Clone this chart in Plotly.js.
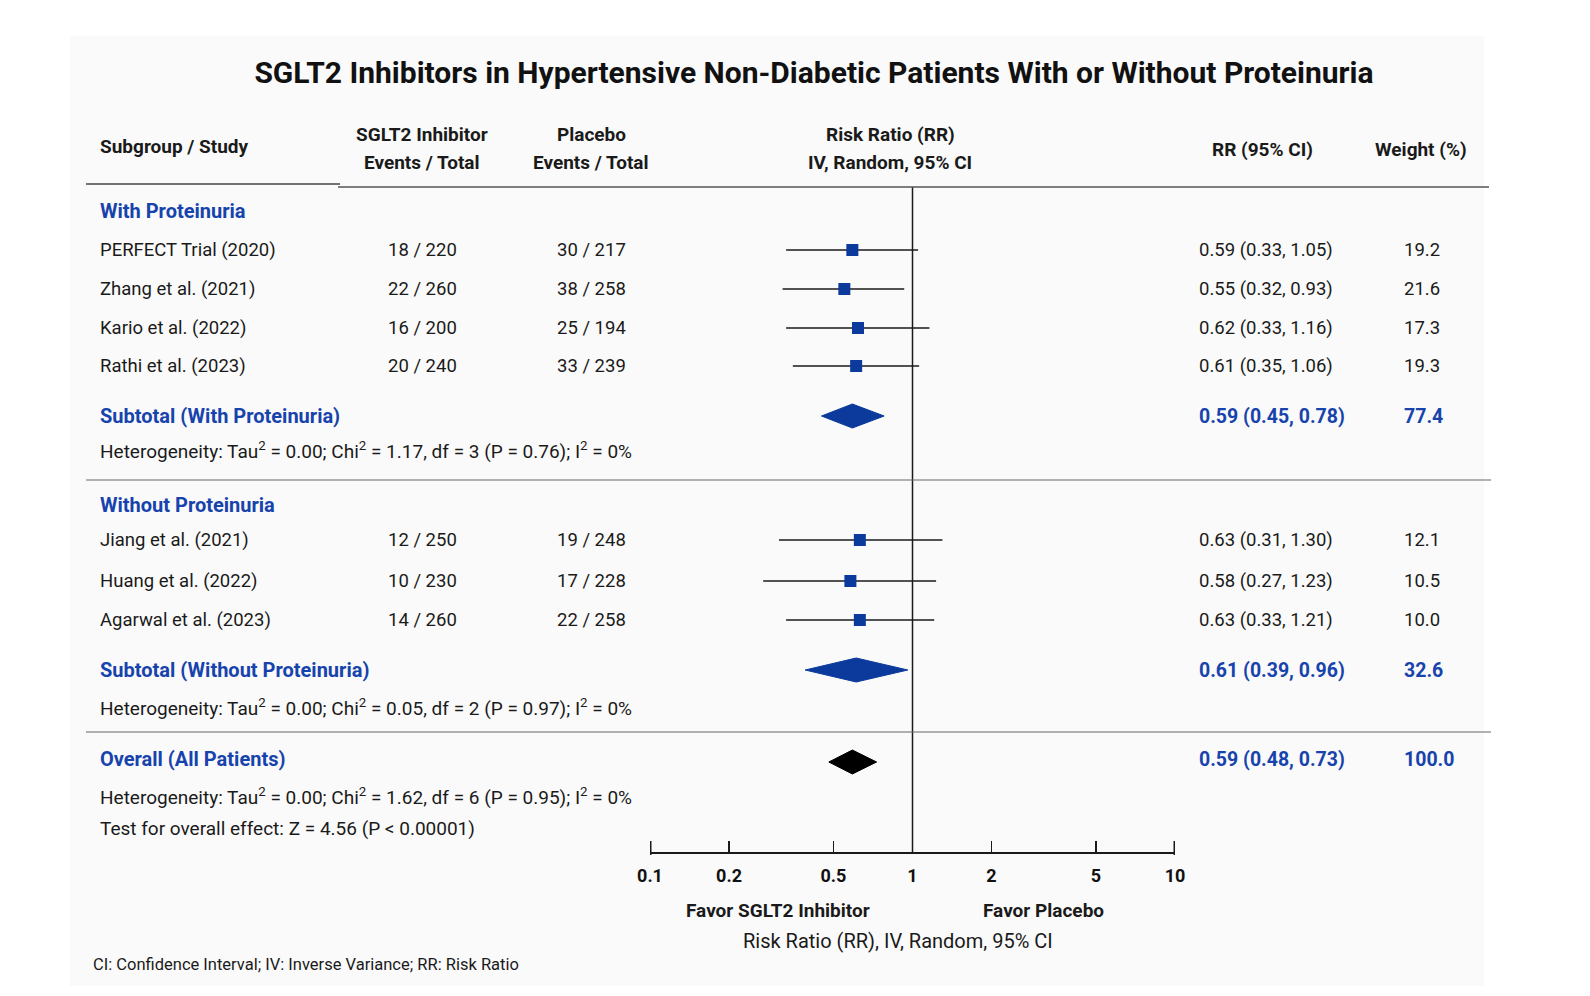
<!DOCTYPE html>
<html>
<head>
<meta charset="utf-8">
<script src="https://cdn.plot.ly/plotly-3.0.1.min.js"></script>
<style>
  html, body { margin: 0; padding: 0; background: #ffffff; }
  #chart { width: 1590px; height: 996px; }
</style>
</head>
<body>
<div id="chart"></div>
<script>
// ---------- data ----------
const studyNames = ['PERFECT Trial (2020)', 'Zhang et al. (2021)', 'Kario et al. (2022)', 'Rathi et al. (2023)',
                    'Jiang et al. (2021)', 'Huang et al. (2022)', 'Agarwal et al. (2023)'];
const sgltEvents = [18, 22, 16, 20, 12, 10, 14];
const sgltTotal = [220, 260, 200, 240, 250, 230, 260];
const placeboEvents = [30, 38, 25, 33, 19, 17, 22];
const placeboTotal = [217, 258, 194, 239, 248, 228, 258];
const studyRR = [0.59, 0.55, 0.62, 0.61, 0.63, 0.58, 0.63];
const studyLow = [0.33, 0.32, 0.33, 0.35, 0.31, 0.27, 0.33];
const studyHigh = [1.05, 0.93, 1.16, 1.06, 1.30, 1.23, 1.21];
const studyWeight = ['19.2', '21.6', '17.3', '19.3', '12.1', '10.5', '10.0'];

const groupNames = ['With Proteinuria', 'Without Proteinuria'];
const subtotalNames = ['Subtotal (With Proteinuria)', 'Subtotal (Without Proteinuria)'];
const subtotalRR = [0.59, 0.61];
const subtotalLow = [0.45, 0.39];
const subtotalHigh = [0.78, 0.96];
const subtotalWeight = ['77.4', '32.6'];
const subtotalHet = [
  'Heterogeneity: Tau<sup>2</sup> = 0.00; Chi<sup>2</sup> = 1.17, df = 3 (P = 0.76); I<sup>2</sup> = 0%',
  'Heterogeneity: Tau<sup>2</sup> = 0.00; Chi<sup>2</sup> = 0.05, df = 2 (P = 0.97); I<sup>2</sup> = 0%'
];

const overallName = 'Overall (All Patients)';
const overallRR = 0.59;
const overallLow = 0.48;
const overallHigh = 0.73;
const overallWeight = '100.0';
const overallHet = 'Heterogeneity: Tau<sup>2</sup> = 0.00; Chi<sup>2</sup> = 1.62, df = 6 (P = 0.95); I<sup>2</sup> = 0%';
const overallTest = 'Test for overall effect: Z = 4.56 (P &lt; 0.00001)';

const tickValues = [0.1, 0.2, 0.5, 1, 2, 5, 10];
const tickLabels = ['0.1', '0.2', '0.5', '1', '2', '5', '10'];

// ---------- layout geometry (pixels) ----------
const W = 1590, H = 996;
const AXIS_Y = 852;                       // row of the RR axis line
const AXIS_X0 = 650, AXIS_X1 = 1175;      // pixel span of the log axis (0.1 .. 10)
const studyRowY = [250, 289, 328, 366, 540, 581, 620];
const groupRowY = [211, 505];
const subtotalRowY = [416, 670];
const subtotalHetY = [450, 707];
const overallRowY = 759;
const overallHetY = 796;
const overallTestY = 828;

const COL_STUDY = 98, COL_SGLT = 422, COL_PLAC = 591, COL_CI = 1197, COL_W = 1402;

const FONT = 'Roboto, "Noto Sans", sans-serif';
const TXT = '#1a1a1a';
const BLUE = '#1743ad';
const MARK = '#0b3a9c';
const DIAMOND_HALF = 12;

const SZ_ROW = 18.5, SZ_HET = 19, SZ_HEAD = 19, SZ_BLUE = 20, SZ_BLUEVAL = 19.5;

const px = v => v / W;
const py = v => 1 - v / H;
const fmt = (r, l, h) => `${r.toFixed(2)} (${l.toFixed(2)}, ${h.toFixed(2)})`;

const annotations = [];
function txt(text, x, y, opts = {}) {
  annotations.push({
    text: text,
    xref: 'paper', yref: opts.yref || 'y',
    x: px(x), y: opts.yref === 'paper' ? py(y) : y,
    xanchor: opts.anchor || 'left', yanchor: 'middle',
    showarrow: false,
    font: { family: FONT, size: opts.size || SZ_ROW, color: opts.color || TXT, weight: opts.weight || 400 }
  });
}

// header
txt('Subgroup / Study', COL_STUDY, 146, { weight: 700, size: SZ_HEAD });
txt('SGLT2 Inhibitor', COL_SGLT, 134, { anchor: 'center', weight: 700, size: SZ_HEAD });
txt('Events / Total', COL_SGLT, 162, { anchor: 'center', weight: 700, size: SZ_HEAD });
txt('Placebo', COL_PLAC, 134, { anchor: 'center', weight: 700, size: SZ_HEAD });
txt('Events / Total', COL_PLAC, 162, { anchor: 'center', weight: 700, size: SZ_HEAD });
txt('Risk Ratio (RR)', 890, 134, { anchor: 'center', weight: 700, size: SZ_HEAD });
txt('IV, Random, 95% CI', 890, 162, { anchor: 'center', weight: 700, size: SZ_HEAD });
txt('RR (95% CI)', 1262, 149, { anchor: 'center', weight: 700, size: SZ_HEAD });
txt('Weight (%)', 1421, 149, { anchor: 'center', weight: 700, size: SZ_HEAD });

// subgroup headings
groupNames.forEach((g, i) => txt(g, COL_STUDY, groupRowY[i], { color: BLUE, weight: 700, size: SZ_BLUE }));

// individual studies
studyNames.forEach((s, i) => {
  const y = studyRowY[i];
  txt(s, COL_STUDY, y);
  txt(`${sgltEvents[i]} / ${sgltTotal[i]}`, COL_SGLT, y, { anchor: 'center' });
  txt(`${placeboEvents[i]} / ${placeboTotal[i]}`, COL_PLAC, y, { anchor: 'center' });
  txt(fmt(studyRR[i], studyLow[i], studyHigh[i]), COL_CI, y);
  txt(studyWeight[i], COL_W, y);
});

// subtotals
subtotalNames.forEach((s, i) => {
  const y = subtotalRowY[i];
  txt(s, COL_STUDY, y, { color: BLUE, weight: 700, size: SZ_BLUE });
  txt(fmt(subtotalRR[i], subtotalLow[i], subtotalHigh[i]), COL_CI, y, { color: BLUE, weight: 700, size: SZ_BLUEVAL });
  txt(subtotalWeight[i], COL_W, y, { color: BLUE, weight: 700, size: SZ_BLUEVAL });
  txt(subtotalHet[i], COL_STUDY, subtotalHetY[i], { size: SZ_HET });
});

// overall
txt(overallName, COL_STUDY, overallRowY, { color: BLUE, weight: 700, size: SZ_BLUE });
txt(fmt(overallRR, overallLow, overallHigh), COL_CI, overallRowY, { color: BLUE, weight: 700, size: SZ_BLUEVAL });
txt(overallWeight, COL_W, overallRowY, { color: BLUE, weight: 700, size: SZ_BLUEVAL });
txt(overallHet, COL_STUDY, overallHetY, { size: SZ_HET });
txt(overallTest, COL_STUDY, overallTestY, { size: SZ_HET });

// below the axis
txt('Favor SGLT2 Inhibitor', 778, 910, { yref: 'paper', anchor: 'center', weight: 700, size: 19 });
txt('Favor Placebo', 1043, 910, { yref: 'paper', anchor: 'center', weight: 700, size: 19 });
txt('Risk Ratio (RR), IV, Random, 95% CI', 898, 941, { yref: 'paper', anchor: 'center', size: 20 });
txt('CI: Confidence Interval; IV: Inverse Variance; RR: Risk Ratio', 91, 964, { yref: 'paper', size: 16.5 });

// ---------- traces ----------
const traces = [];

// line of no effect
traces.push({
  x: [1, 1], y: [187, AXIS_Y], mode: 'lines',
  line: { color: '#1a1a1a', width: 1.5 }, hoverinfo: 'skip', showlegend: false
});

// confidence-interval whiskers
const wx = [], wy = [];
studyRR.forEach((r, i) => { wx.push(studyLow[i], studyHigh[i], null); wy.push(studyRowY[i], studyRowY[i], null); });
traces.push({
  x: wx, y: wy, mode: 'lines',
  line: { color: '#1a1a1a', width: 1.5 }, hoverinfo: 'skip', showlegend: false
});

// point estimates
traces.push({
  x: studyRR, y: studyRowY, mode: 'markers',
  marker: { symbol: 'square', size: 12, color: MARK, line: { width: 0 } },
  hoverinfo: 'skip', showlegend: false
});

function diamond(r, l, h, y, color) {
  return {
    x: [l, r, h, r, l], y: [y, y - DIAMOND_HALF, y, y + DIAMOND_HALF, y],
    mode: 'lines', fill: 'toself', fillcolor: color,
    line: { color: color, width: 1 }, hoverinfo: 'skip', showlegend: false
  };
}
subtotalRR.forEach((r, i) => traces.push(diamond(r, subtotalLow[i], subtotalHigh[i], subtotalRowY[i], MARK)));
traces.push(diamond(overallRR, overallLow, overallHigh, overallRowY + 3, '#000000'));

// ---------- shapes ----------
const shapes = [
  // faint card behind the figure
  { type: 'rect', xref: 'paper', yref: 'paper', x0: px(70), x1: px(1484), y0: py(986), y1: py(36),
    fillcolor: '#fafafa', line: { width: 0 }, layer: 'below' },
  // header rule
  { type: 'line', xref: 'paper', yref: 'paper', x0: px(86), x1: px(340), y0: py(184), y1: py(184),
    line: { color: '#444', width: 1.5 } },
  { type: 'line', xref: 'paper', yref: 'paper', x0: px(338), x1: px(1489), y0: py(187), y1: py(187),
    line: { color: '#555', width: 1.5 } },
  // subgroup separators
  { type: 'line', xref: 'paper', yref: 'paper', x0: px(86), x1: px(1491), y0: py(480), y1: py(480),
    line: { color: '#666', width: 1.2 } },
  { type: 'line', xref: 'paper', yref: 'paper', x0: px(86), x1: px(1491), y0: py(732), y1: py(732),
    line: { color: '#666', width: 1.2 } },
  // end ticks of the RR axis (0.1 and 10)
  { type: 'line', xref: 'paper', yref: 'paper', x0: px(AXIS_X0 + 0.75), x1: px(AXIS_X0 + 0.75),
    y0: py(AXIS_Y - 11), y1: py(AXIS_Y + 3), line: { color: '#1a1a1a', width: 1.5 } },
  { type: 'line', xref: 'paper', yref: 'paper', x0: px(AXIS_X1 - 0.75), x1: px(AXIS_X1 - 0.75),
    y0: py(AXIS_Y - 11), y1: py(AXIS_Y + 3), line: { color: '#1a1a1a', width: 1.5 } }
];

const layout = {
  width: W, height: H,
  margin: { l: 0, r: 0, t: 0, b: 0 },
  paper_bgcolor: '#ffffff', plot_bgcolor: 'rgba(0,0,0,0)',
  showlegend: false,
  title: {
    text: '<b>SGLT2 Inhibitors in Hypertensive Non-Diabetic Patients With or Without Proteinuria</b>',
    x: 814 / W, xanchor: 'center', y: py(72), yanchor: 'middle', yref: 'container',
    font: { family: FONT, size: 30, color: '#111' }
  },
  xaxis: {
    type: 'log', range: [-1, 1], domain: [AXIS_X0 / W, AXIS_X1 / W],
    tickvals: tickValues, ticktext: tickLabels.map(t => '<b>' + t + '</b>'),
    ticks: 'inside', ticklen: 11, tickwidth: 1.5, tickcolor: '#1a1a1a',
    showline: true, linecolor: '#1a1a1a', linewidth: 1.5,
    showgrid: false, zeroline: false, ticklabelstandoff: 7,
    tickfont: { family: FONT, size: 18, color: '#111' },
    fixedrange: true
  },
  yaxis: {
    range: [AXIS_Y, 0], domain: [(H - AXIS_Y) / H, 1],
    visible: false, showgrid: false, zeroline: false, fixedrange: true
  },
  shapes: shapes,
  annotations: annotations
};

Plotly.newPlot('chart', traces, layout, { staticPlot: true, displayModeBar: false });
</script>
</body>
</html>
